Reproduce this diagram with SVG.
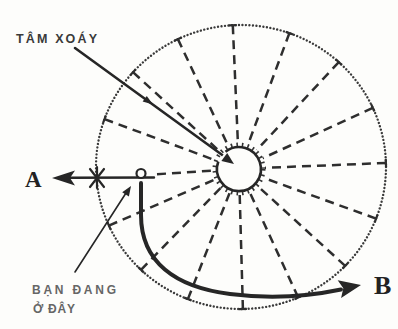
<svg xmlns="http://www.w3.org/2000/svg" width="398" height="329" viewBox="0 0 398 329">
<style>
.ray{fill:none;stroke:#2e2e2e;stroke-width:2.5;stroke-dasharray:9 6;marker-start:url(#tick)}
.dots{fill:none;stroke:#3a3a3a;stroke-width:2.4;stroke-dasharray:0.01 3.5;stroke-linecap:round}
.ink{fill:none;stroke:#262626;stroke-linecap:round}
.head{fill:#262626;stroke:none}
.lbl{font-family:"Liberation Sans",Arial,sans-serif;font-weight:bold}
.big{font-family:"Liberation Serif","Times New Roman",serif;font-weight:bold;fill:#222}
</style>
<defs>
<marker id="tick" markerUnits="userSpaceOnUse" markerWidth="10" markerHeight="10" viewBox="-5 -5 10 10" refX="0" refY="0" orient="auto">
<path d="M0,-4 L0,4" stroke="#2e2e2e" stroke-width="2.2"/>
</marker>
</defs>
<rect width="398" height="329" fill="#fdfdfb"/>

<g id="outer-circle">
<ellipse class="dots" cx="241" cy="167" rx="145" ry="142"/>
</g>

<g id="connectors">
<path class="ray" d="M232.8,25.2 L237.9,143"/>
<path class="ray" d="M289.4,33.1 L248,144.6"/>
<path class="ray" d="M338.8,62.1 L256.8,150"/>
<path class="ray" d="M372.8,107.8 L262.7,158.2"/>
<path class="ray" d="M385.9,162.9 L265,167.9"/>
<path class="ray" d="M376.1,218.6 L263.4,177.8"/>
<path class="ray" d="M345.2,265.9 L258.2,186.5"/>
<path class="ray" d="M298.2,297.5 L249.9,192.6"/>
<path class="ray" d="M242.9,309 L239.7,195"/>
<path class="ray" d="M187.9,299.1 L229.5,193.2"/>
<path class="ray" d="M141,269.8 L220.9,187.6"/>
<path class="ray" d="M108.9,225.6 L215.2,179.4"/>
<path class="ray" d="M157,174.2 L213.1,170.6" style="marker-start:none"/>
<path class="ray" d="M104.5,119.1 L214.6,160"/>
<path class="ray" d="M133,72.2 L219.8,151.5"/>
<path class="ray" d="M177.9,39.1 L228,145.5"/>

<!-- pointer to vortex centre -->
<path class="ink" d="M75,48 L225,157" stroke-width="2.6"/>
<path class="head" d="M153,104.6 L142.6,101.5 L146.8,95.9 Z"/>

<!-- path toward A -->
<path class="ink" d="M154,177.5 L68,177.8" stroke-width="2.4"/>
<path class="head" d="M52,178 L75,170.5 L70,178 L75,185.5 Z"/>
<g stroke="#262626" stroke-width="2.2" stroke-linecap="round">
<path d="M97,167 L97,188"/>
<path d="M90,169 L104,187"/>
<path d="M104,169 L90,187"/>
</g>

<!-- path toward B -->
<path class="ink" d="M141,183 L141,215 C141,262 175,287 230,294 C270,299 310,296 341,289.5" stroke-width="4"/>
<path class="head" d="M361,285 L337.7,280.2 L343.3,288.3 L341.1,297.9 Z"/>

<!-- pointer from "you are here" -->
<path class="ink" d="M75,272 L126,193" stroke-width="1.6"/>
<path class="head" d="M131,186 L128.9,196.6 L122.2,192.2 Z"/>
</g>

<g id="vortex-centre">
<circle cx="239" cy="169" r="24.5" fill="none" stroke="#333" stroke-width="4" stroke-dasharray="1.6 4"/>
<path d="M225.5,151.7 A22,22 0 1 1 218.3,161.5" fill="#fdfdfb" stroke="#262626" stroke-width="2.6"/>
<path class="head" d="M234,164 L221.4,161 L227.2,152.9 Z"/>
</g>

<g id="you-are-here">
<circle cx="141" cy="173.5" r="4.5" fill="#fdfdfb" stroke="#262626" stroke-width="2.2"/>
</g>

<g id="label-vortex">
<text class="lbl" x="16" y="43" font-size="12.5" fill="#3a3a3a" textLength="81" lengthAdjust="spacing">TÂM XOÁY</text>
</g>
<g id="label-here">
<text class="lbl" x="32" y="294" font-size="12" fill="#666" textLength="84" lengthAdjust="spacing">BẠN ĐANG</text>
<text class="lbl" x="33" y="313" font-size="12" fill="#666" textLength="42" lengthAdjust="spacing">Ở ĐÂY</text>
</g>
<g id="label-A">
<text class="big" x="25" y="187" font-size="23">A</text>
</g>
<g id="label-B">
<text class="big" x="374" y="294" font-size="26">B</text>
</g>
</svg>
